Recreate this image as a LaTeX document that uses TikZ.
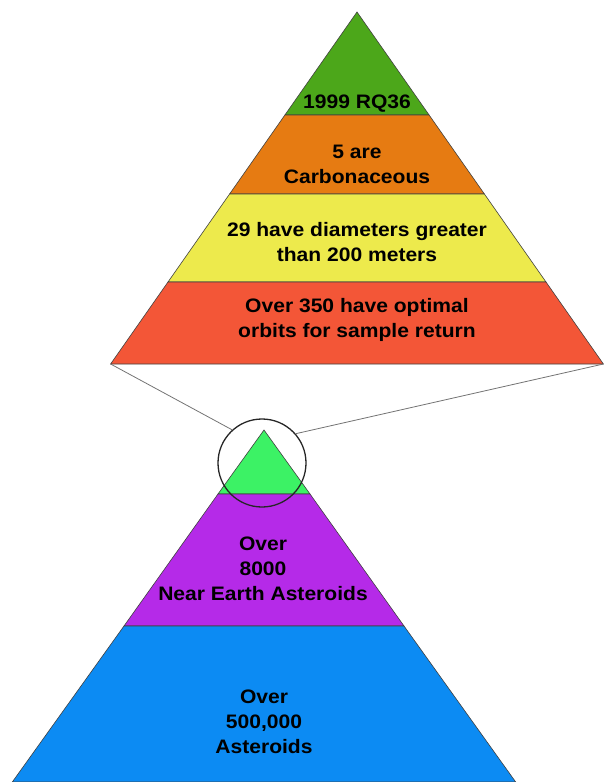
\documentclass[tikz,border=0pt]{standalone}
\usepackage{fontspec}
\newfontfamily\labelfont{Liberation Sans}[FakeStretch=1.08]
\usetikzlibrary{calc}
\definecolor{RQGreen}{HTML}{4CA71A}
\definecolor{CarbOrange}{HTML}{E67B12}
\definecolor{DiamYellow}{HTML}{EDEA4C}
\definecolor{OrbitRed}{HTML}{F35637}
\definecolor{TipGreen}{HTML}{3CF265}
\definecolor{NEAPurple}{HTML}{B52AE8}
\definecolor{AstBlue}{HTML}{0C8BF3}
\tikzset{
  layer/.style={draw=black!75, line width=0.6pt, line join=miter},
  lbl/.style={align=center, inner sep=0pt, anchor=north, font=\labelfont\bfseries\fontsize{19.5}{25}\selectfont},
  zoomline/.style={draw=black!55, line width=0.8pt},
  lens/.style={circle, draw=black!85, line width=1.3pt, minimum size=88pt, inner sep=0pt}
}
\begin{document}
\begin{tikzpicture}[x=1pt,y=-1pt]
\useasboundingbox (0,0) rectangle (606,782);
% zoomed pyramid
\draw[layer, fill=RQGreen] (357,12) -- (429.1,115) -- (284.9,115) -- cycle;
\draw[layer, fill=CarbOrange] (284.9,115) -- (429.1,115) -- (484.4,194) -- (229.6,194) -- cycle;
\draw[layer, fill=DiamYellow] (229.6,194) -- (484.4,194) -- (546,282) -- (168,282) -- cycle;
\draw[layer, fill=OrbitRed] (168,282) -- (546,282) -- (603.4,364) -- (110.6,364) -- cycle;
\coordinate (tl) at (110.6,364);
\coordinate (tr) at (603.4,364);
% full pyramid
\draw[layer, fill=TipGreen] (264,430) -- (310,494) -- (218,494) -- cycle;
\draw[layer, fill=NEAPurple] (218,494) -- (310,494) -- (404,626) -- (124,626) -- cycle;
\draw[layer, fill=AstBlue] (124,626) -- (404,626) -- (515.7,782) -- (12.3,782) -- cycle;
\node[lens] (lens) at (262,463) {};
\draw[zoomline] (tl) -- (lens.132);
\draw[zoomline] (tr) -- (lens.41);
\node[lbl] (rq36) at (357,95) {1999 RQ36};
\node[lbl] (carb) at (357,145) {5 are\\Carbonaceous};
\node[lbl] (diam) at (357,222) {29 have diameters greater\\than 200 meters};
\node[lbl] (orbit) at (357,298) {Over 350 have optimal\\orbits for sample return};
\node[lbl] (nea) at (263,537) {Over\\8000\\Near Earth Asteroids};
\node[lbl] (ast) at (264,690) {Over\\500,000\\Asteroids};
\end{tikzpicture}
\end{document}
